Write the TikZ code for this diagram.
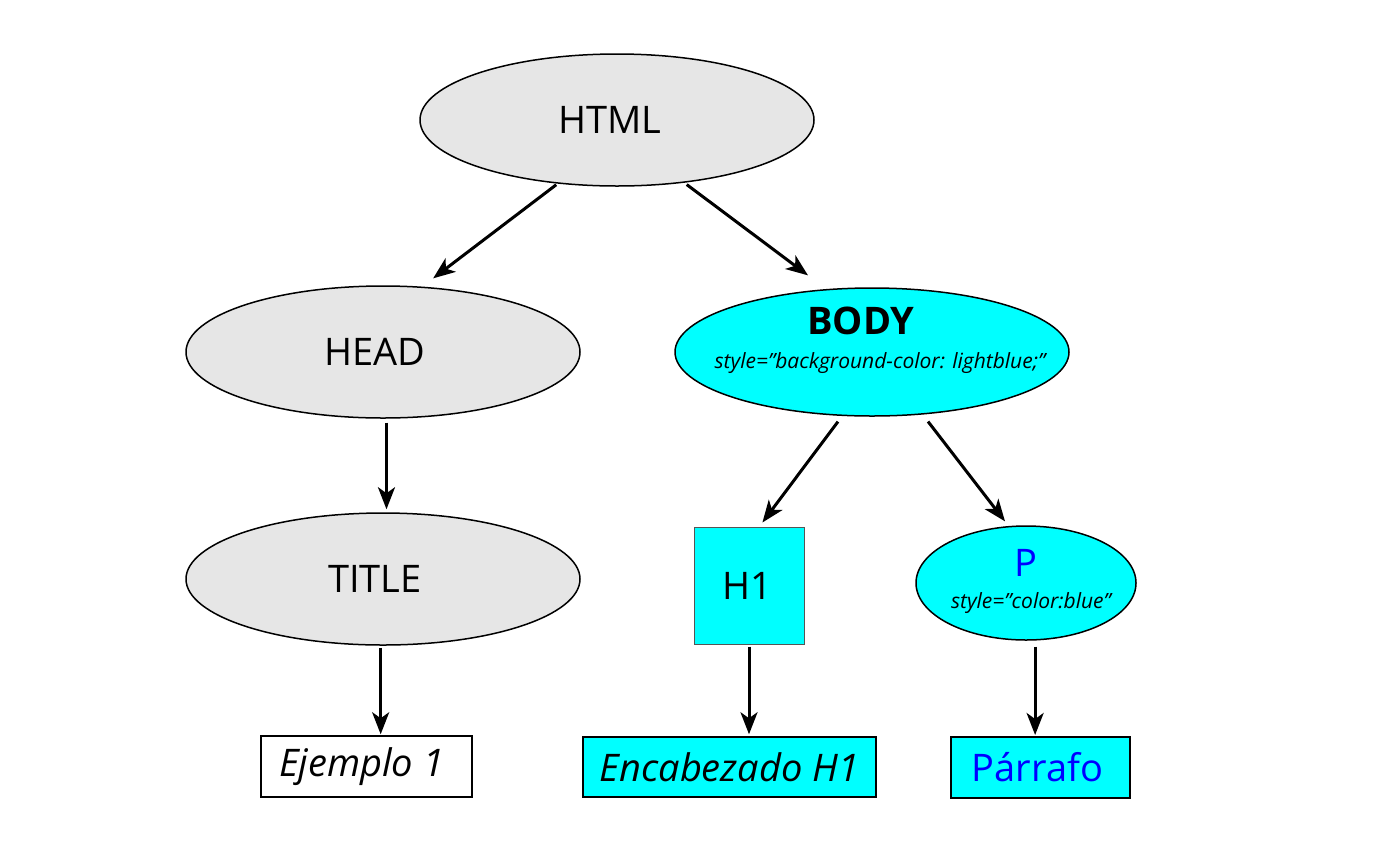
\documentclass[tikz,border=0pt]{standalone}
\usepackage{fontspec}
\setmainfont{Open Sans}
\usetikzlibrary{shapes.geometric,arrows.meta}
\definecolor{tagGray}{HTML}{E6E6E6}
\definecolor{tagCyan}{HTML}{00FFFF}
\definecolor{txtBlue}{HTML}{0000FF}
\definecolor{thinEdge}{HTML}{555555}
% move a centred text sideways by #1 drawing units (half points)
\newcommand\nudge[2]{\ifdim#1pt<0pt #2\kern-#1pt\else\kern#1pt #2\fi}
\begin{document}
\begin{tikzpicture}[x=0.5pt,y=-0.5pt,
  bigfont/.style={font=\fontsize{19}{15}\selectfont},
  tagnode/.style={ellipse, draw=black, line width=0.75pt, inner sep=0pt, bigfont},
  graytag/.style={tagnode, fill=tagGray, minimum width=197pt, minimum height=66pt},
  cyantag/.style={tagnode, fill=tagCyan},
  box/.style={rectangle, draw=black, line width=0.75pt, inner sep=0pt, bigfont},
  conn/.style={-{Stealth[length=11pt,width=8.5pt,inset=3pt]}, line width=1.5pt}
]
\useasboundingbox (0,0) rectangle (1396,863);

% element tree
\node[graytag] (html)  at (617,120) {\nudge{-7}{HTML}};
\node[graytag] (head)  at (383,352) {\nudge{-8}{HEAD}};
\node[graytag] (title) at (383,579) {\nudge{-8}{TITLE}};
\node[cyantag, minimum width=197pt, minimum height=64pt,
      label={[align=center, bigfont, yshift=6pt]center:{\nudge{-11}{\textbf{BODY}}\\[2pt]{\fontsize{10.5}{12}\selectfont\itshape \nudge{8}{style="background-color: lightblue;"}}}}]
      (body) at (872,352) {};
\node[box, fill=tagCyan, draw=thinEdge, line width=0.5pt, minimum width=55pt, minimum height=58.5pt] (h1) at (749,585.5) {\nudge{-2}{H1}};
\node[cyantag, minimum width=110pt, minimum height=57pt,
      label={[align=center, bigfont, yshift=1pt]center:{\textcolor{txtBlue}{P}\\[1pt]{\fontsize{10.5}{12}\selectfont\itshape \nudge{5}{style="color:blue"}}}}]
      (p) at (1026,583) {};

% text contents
\node[box, fill=white, minimum width=105.5pt, minimum height=30.5pt] (ej) at (366.5,766.5) {\itshape \nudge{-5}{Ejemplo 1}};
\node[box, fill=tagCyan, minimum width=146.5pt, minimum height=30pt] (enc) at (729.5,767) {\itshape Encabezado H1};
\node[box, fill=tagCyan, line width=1pt, minimum width=89.5pt, minimum height=30.5pt] (par) at (1040.5,767.5) {\textcolor{txtBlue}{\nudge{-3}{Párrafo}}};

% parent-child connectors
\draw[conn, shorten <=0.9pt, shorten >=6.8pt] (html.227) -- (head.59);
\draw[conn, shorten <=1.5pt, shorten >=11.4pt] (html.317) -- (body.126);
\draw[conn, shorten <=2pt, shorten >=1.5pt] (head.-87) -- (head.-87 |- title.north);
\draw[conn, shorten <=3.5pt, shorten >=2.5pt] (body.245) -- (h1.80);
\draw[conn, shorten <=4.4pt, shorten >=2.9pt] (body.309) -- (p.107);
\draw[conn, shorten <=1pt, shorten >=0.5pt] (title.-92) -- (title.-92 |- ej.north);
\draw[conn, shorten <=1pt, shorten >=1pt] (h1.south) -- (h1.south |- enc.north);
\draw[conn, shorten <=3pt, shorten >=0.5pt] (p.-81) -- (p.-81 |- par.north);
\end{tikzpicture}
\end{document}
